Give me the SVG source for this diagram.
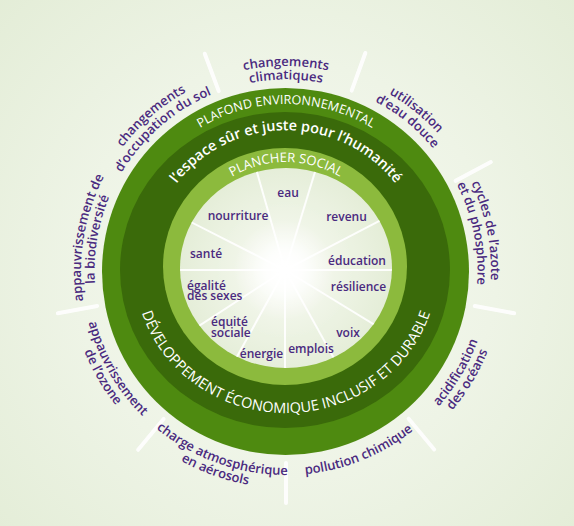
<svg xmlns="http://www.w3.org/2000/svg" xmlns:xlink="http://www.w3.org/1999/xlink" width="574" height="526" viewBox="0 0 574 526">
<style>
.lbl{font-family:"Open Sans","Noto Sans",sans-serif;font-size:13px;font-weight:600;fill:#4a2a7f}
.in{font-family:"Open Sans","Noto Sans",sans-serif;font-size:12px;font-weight:600;fill:#4a2a7f}
.wt{font-family:"Open Sans","Noto Sans",sans-serif;fill:#ffffff}
.ospoke{stroke:#ffffff;stroke-width:4;stroke-linecap:round;opacity:0.9}
.ispoke{stroke:#ffffff;stroke-width:2;opacity:0.9}
</style>
<defs>
<radialGradient id="bg" gradientUnits="userSpaceOnUse" cx="286" cy="271" r="420">
<stop offset="0" stop-color="#f7faf3"/>
<stop offset="0.5" stop-color="#eef4e6"/>
<stop offset="1" stop-color="#e2ecd5"/>
</radialGradient>
<radialGradient id="disk" gradientUnits="userSpaceOnUse" cx="285" cy="270" r="108">
<stop offset="0" stop-color="#ffffff"/>
<stop offset="0.3" stop-color="#f3f7ec"/>
<stop offset="1" stop-color="#e4edd7"/>
</radialGradient>
<radialGradient id="glow" gradientUnits="userSpaceOnUse" cx="284" cy="270" r="50">
<stop offset="0" stop-color="#ffffff" stop-opacity="1"/>
<stop offset="0.35" stop-color="#ffffff" stop-opacity="0.8"/>
<stop offset="1" stop-color="#ffffff" stop-opacity="0"/>
</radialGradient>
<clipPath id="diskclip"><ellipse cx="286" cy="268" rx="106" ry="100"/></clipPath>
<path id="t205" d="M168.41,103.06 A205,205 0 0 1 403.59,103.06"/>
<path id="t191" d="M176.16,114.12 A191.5,191.5 0 0 1 395.84,114.12"/>
<path id="b204" d="M168.99,438.12 A204,204 0 0 0 403.01,438.12"/>
<path id="b217" d="M161.53,448.77 A217,217 0 0 0 410.47,448.77"/>
<path id="pPlafond" d="M142.24,187 A166,166 0 0 1 429.76,187"/>
<path id="pEspace" d="M155.38,221.78 A139,139 0 0 1 416.62,221.78"/>
<path id="pPlancher" d="M194.2,215 A106,106 0 0 1 377.8,215"/>
<path id="pDev" d="M137.3,245.2 A151,143 0 1 0 434.7,245.2"/>
</defs>

<rect x="0" y="0" width="574" height="526" fill="url(#bg)"/>

<g id="outer-spokes">
<g transform="rotate(-110.5 286 271)"><line class="ospoke" x1="478" y1="271" x2="518" y2="271"/></g>
<g transform="rotate(-70 286 271)"><line class="ospoke" x1="478" y1="271" x2="518" y2="271"/></g>
<g transform="rotate(-28 286 271)"><line class="ospoke" x1="478" y1="271" x2="518" y2="271"/></g>
<g transform="rotate(10.5 286 271)"><line class="ospoke" x1="478" y1="271" x2="518" y2="271"/></g>
<g transform="rotate(50.3 286 271)"><line class="ospoke" x1="478" y1="271" x2="518" y2="271"/></g>
<g transform="rotate(90 286 271)"><line class="ospoke" x1="478" y1="271" x2="518" y2="271"/></g>
<g transform="rotate(129.6 286 271)"><line class="ospoke" x1="478" y1="271" x2="518" y2="271"/></g>
<g transform="rotate(169.5 286 271)"><line class="ospoke" x1="478" y1="271" x2="518" y2="271"/></g>
</g>

<g id="rings">
<ellipse cx="285.5" cy="271.5" rx="183.5" ry="183.5" fill="#4e8a10"/>
<ellipse cx="285" cy="270" rx="165" ry="158" fill="#3a6a0a"/>
<ellipse cx="285" cy="266.5" rx="122" ry="118.5" fill="#8cba3d"/>
<ellipse cx="286" cy="268" rx="106" ry="100" fill="url(#disk)"/>
</g>

<g id="inner-spokes" clip-path="url(#diskclip)">
<g transform="translate(285 270)">
<line class="ispoke" x1="0" y1="0" x2="120" y2="0" transform="rotate(-153)"/>
<line class="ispoke" x1="0" y1="0" x2="120" y2="0" transform="rotate(-106)"/>
<line class="ispoke" x1="0" y1="0" x2="120" y2="0" transform="rotate(-73)"/>
<line class="ispoke" x1="0" y1="0" x2="120" y2="0" transform="rotate(-27.5)"/>
<line class="ispoke" x1="0" y1="0" x2="120" y2="0" transform="rotate(0)"/>
<line class="ispoke" x1="0" y1="0" x2="120" y2="0" transform="rotate(31.5)"/>
<line class="ispoke" x1="0" y1="0" x2="120" y2="0" transform="rotate(61)"/>
<line class="ispoke" x1="0" y1="0" x2="120" y2="0" transform="rotate(90)"/>
<line class="ispoke" x1="0" y1="0" x2="120" y2="0" transform="rotate(119)"/>
<line class="ispoke" x1="0" y1="0" x2="120" y2="0" transform="rotate(147)"/>
<line class="ispoke" x1="0" y1="0" x2="120" y2="0" transform="rotate(180)"/>
</g>
<circle cx="284" cy="270" r="50" fill="url(#glow)"/>
</g>

<g id="ring-titles">
<text class="wt" font-size="12.6"><textPath xlink:href="#pPlafond" href="#pPlafond" startOffset="50%" text-anchor="middle">PLAFOND ENVIRONNEMENTAL</textPath></text>
<text class="wt" font-size="14.4" font-weight="600"><textPath xlink:href="#pEspace" href="#pEspace" startOffset="50%" text-anchor="middle">l’espace sûr et juste pour l’humanité</textPath></text>
<text class="wt" font-size="13"><textPath xlink:href="#pPlancher" href="#pPlancher" startOffset="50%" text-anchor="middle">PLANCHER SOCIAL</textPath></text>
<text class="wt" font-size="14.5"><textPath xlink:href="#pDev" href="#pDev" startOffset="50%" text-anchor="middle">DÉVELOPPEMENT ÉCONOMIQUE INCLUSIF ET DURABLE</textPath></text>
</g>

<g id="ceiling-labels">
<g id="climat">
<text class="lbl"><textPath xlink:href="#t205" href="#t205" startOffset="50%" text-anchor="middle">changements</textPath></text>
<text class="lbl"><textPath xlink:href="#t191" href="#t191" startOffset="50%" text-anchor="middle">climatiques</textPath></text>
</g>
<g id="eau-douce" transform="rotate(39 286 271)">
<text class="lbl"><textPath xlink:href="#t205" href="#t205" startOffset="50%" text-anchor="middle">utilisation</textPath></text>
<text class="lbl"><textPath xlink:href="#t191" href="#t191" startOffset="50%" text-anchor="middle">d’eau douce</textPath></text>
</g>
<g id="azote" transform="rotate(78.6 286 271)">
<text class="lbl"><textPath xlink:href="#t205" href="#t205" startOffset="50%" text-anchor="middle">cycles de l’azote</textPath></text>
<text class="lbl"><textPath xlink:href="#t191" href="#t191" startOffset="50%" text-anchor="middle">et du phosphore</textPath></text>
</g>
<g id="acidification" transform="rotate(-59.2 286 271)">
<text class="lbl"><textPath xlink:href="#b204" href="#b204" startOffset="50%" text-anchor="middle">acidification</textPath></text>
<text class="lbl"><textPath xlink:href="#b217" href="#b217" startOffset="50%" text-anchor="middle">des océans</textPath></text>
</g>
<g id="pollution" transform="rotate(-22 286 271)">
<text class="lbl"><textPath xlink:href="#b204" href="#b204" startOffset="50%" text-anchor="middle">pollution chimique</textPath></text>
</g>
<g id="aerosols" transform="rotate(19.5 286 271)">
<text class="lbl"><textPath xlink:href="#b204" href="#b204" startOffset="50%" text-anchor="middle">charge atmosphérique</textPath></text>
<text class="lbl"><textPath xlink:href="#b217" href="#b217" startOffset="50%" text-anchor="middle">en aérosols</textPath></text>
</g>
<g id="ozone" transform="rotate(60 286 271)">
<text class="lbl"><textPath xlink:href="#b204" href="#b204" startOffset="50%" text-anchor="middle">appauvrissement</textPath></text>
<text class="lbl"><textPath xlink:href="#b217" href="#b217" startOffset="50%" text-anchor="middle">de l’ozone</textPath></text>
</g>
<g id="biodiversite" transform="rotate(-80.5 286 271)">
<text class="lbl"><textPath xlink:href="#t205" href="#t205" startOffset="50%" text-anchor="middle">appauvrissement de</textPath></text>
<text class="lbl"><textPath xlink:href="#t191" href="#t191" startOffset="50%" text-anchor="middle">la biodiversité</textPath></text>
</g>
<g id="sol" transform="rotate(-41 286 271)">
<text class="lbl"><textPath xlink:href="#t205" href="#t205" startOffset="50%" text-anchor="middle">changements</textPath></text>
<text class="lbl"><textPath xlink:href="#t191" href="#t191" startOffset="50%" text-anchor="middle">d’occupation du sol</textPath></text>
</g>
</g>

<g id="floor-labels">
<text id="eau" class="in" x="288" y="197" text-anchor="middle">eau</text>
<text id="nourriture" class="in" x="238" y="220" text-anchor="middle">nourriture</text>
<text id="revenu" class="in" x="346.5" y="220.5" text-anchor="middle">revenu</text>
<text id="sante" class="in" x="206" y="257.5" text-anchor="middle">santé</text>
<text id="education" class="in" x="357" y="265" text-anchor="middle">éducation</text>
<text id="egalite" class="in"><tspan x="187" y="289.5">égalité</tspan><tspan x="187" y="300">des sexes</tspan></text>
<text id="resilience" class="in" x="358.5" y="291" text-anchor="middle">résilience</text>
<text id="equite" class="in"><tspan x="211" y="326">équité</tspan><tspan x="211" y="336.5">sociale</tspan></text>
<text id="voix" class="in" x="348" y="336.5" text-anchor="middle">voix</text>
<text id="energie" class="in" x="261.5" y="358" text-anchor="middle">énergie</text>
<text id="emplois" class="in" x="311" y="353" text-anchor="middle">emplois</text>
</g>
</svg>
